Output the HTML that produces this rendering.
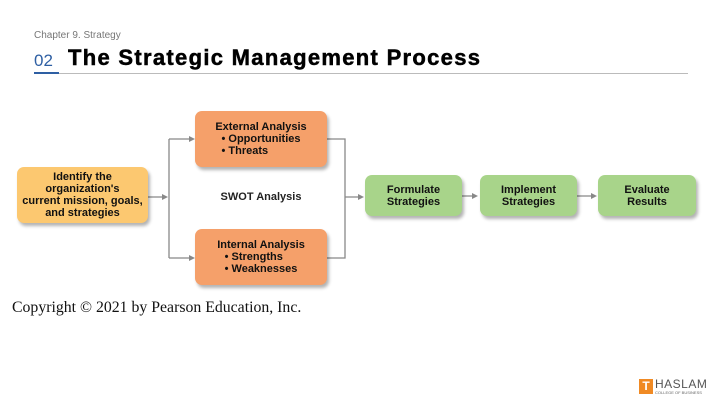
<!DOCTYPE html>
<html><head><meta charset="utf-8"><style>
body{margin:0;width:720px;height:405px;background:#fff;position:relative;overflow:hidden;font-family:"Liberation Sans",sans-serif}
.a{position:absolute}
.box{position:absolute;border-radius:7px;box-shadow:2px 3px 3px rgba(0,0,0,0.3);display:flex;align-items:center;justify-content:center;text-align:center;font-weight:bold;font-size:11px;line-height:12px;color:#111}
.or{background:#f5a06a}.ye{background:#fcc870}.gr{background:#a8d48a}
</style></head><body>
<div class="a" style="left:34px;top:30px;font-size:10px;color:#777">Chapter 9. Strategy</div>
<div class="a" style="left:34px;top:51px;font-size:17px;color:#2e5fa3">02</div>
<div class="a" style="left:68px;top:45px;font-size:22px;font-weight:bold;color:#000;letter-spacing:1.3px;-webkit-text-stroke:0.5px #000">The Strategic Management Process</div>
<div class="a" style="left:34px;top:73px;width:654px;height:1px;background:#bbb"></div>
<div class="a" style="left:34px;top:72px;width:25px;height:2px;background:#2e5fa3"></div>
<svg class="a" style="left:0;top:0" width="720" height="405">
<g stroke="#888" stroke-width="1.3" fill="none">
<path d="M148 197H166M169 139V258M169 139H192M169 258H192M327 139H345V258H327M345 197H361M462 196H474M577 196H594"/>
</g>
<g fill="#888">
<path d="M168 197l-6-3v6z"/><path d="M195 139l-6-3v6z"/><path d="M195 258l-6-3v6z"/><path d="M364 197l-6-3v6z"/><path d="M478 196l-6-3v6z"/><path d="M597 196l-6-3v6z"/>
</g>
</svg>
<div class="box ye" style="left:17px;top:167px;width:131px;height:56px">Identify the<br>organization's<br>current mission, goals,<br>and strategies</div>
<div class="box or" style="left:195px;top:111px;width:132px;height:56px"><div>External Analysis<br><div style="text-align:left;display:inline-block">• Opportunities<br>• Threats</div></div></div>
<div class="box or" style="left:195px;top:229px;width:132px;height:56px"><div>Internal Analysis<br><div style="text-align:left;display:inline-block">• Strengths<br>• Weaknesses</div></div></div>
<div class="a" style="left:195px;top:191px;width:132px;text-align:center;font-size:11px;font-weight:bold;color:#222">SWOT Analysis</div>
<div class="box gr" style="left:365px;top:175px;width:97px;height:41px">Formulate<br>Strategies</div>
<div class="box gr" style="left:480px;top:175px;width:97px;height:41px">Implement<br>Strategies</div>
<div class="box gr" style="left:598px;top:175px;width:98px;height:41px">Evaluate<br>Results</div>
<div class="a" style="left:12px;top:299px;font-family:'Liberation Serif',serif;font-size:15.8px;color:#111">Copyright © 2021 by Pearson Education, Inc.</div>
<div class="a" style="left:639px;top:379px;width:14px;height:15px;background:#f08a24;color:#fff;font-size:12px;font-weight:bold;text-align:center;line-height:15px">T</div>
<div class="a" style="left:655px;top:377px;font-size:12px;color:#555;letter-spacing:0.5px">HASLAM</div>
<div class="a" style="left:655px;top:390px;font-size:4px;color:#666">COLLEGE OF BUSINESS</div>
</body></html>
